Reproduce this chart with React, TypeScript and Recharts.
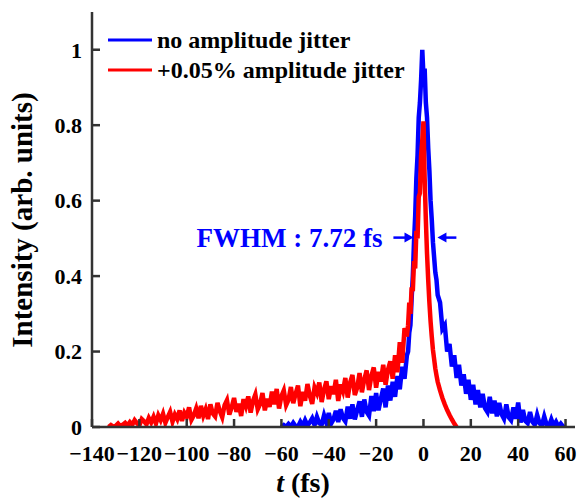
import { LineChart, Line, XAxis, YAxis, ReferenceLine, ReferenceDot, Legend, Label } from "recharts";

const FONT = "Liberation Serif, DejaVu Serif, Times New Roman, serif";
const BLUE = "#0000ff";
const RED = "#ff0000";
const AXIS = "#333333";

const X_TICKS = [-140, -120, -100, -80, -60, -40, -20, 0, 20, 40, 60];
const Y_TICKS = [0, 0.2, 0.4, 0.6, 0.8, 1];

const SERIES_NAMES = ["no amplitude jitter", "+0.05% amplitude jitter"];

// blue trace (no amplitude jitter): rise at 1 fs, peak at 0.5 fs, fall at 1 fs
const BLUE_RISE_START = -60;
const blueRise = [
  0.0, 0.005, 0.0, 0.008, 0.001, 0.011, 0.002, 0.001, 0.014, 0.003,
  0.018, 0.004, 0.012, 0.023, 0.005, 0.027, 0.01, 0.006, 0.031, 0.011,
  0.037, 0.009, 0.02, 0.043, 0.013, 0.047, 0.024, 0.015, 0.054, 0.022,
  0.06, 0.02, 0.044, 0.068, 0.027, 0.073, 0.04, 0.03, 0.082, 0.042,
  0.09, 0.044, 0.075, 0.102, 0.052, 0.11, 0.07, 0.12, 0.08, 0.135,
  0.1, 0.16, 0.128, 0.19,
];
const BLUE_PEAK_START = -6.5;
const bluePeak = [
  0.2, 0.25, 0.27, 0.34, 0.4, 0.49, 0.56, 0.66, 0.72, 0.82, 0.86, 0.92, 1.0,
  0.93, 0.95, 0.86, 0.82, 0.74, 0.68, 0.6, 0.55, 0.49, 0.45, 0.41, 0.39, 0.35,
];
const BLUE_FALL_START = 7;
const blueFall = [
  0.33, 0.26, 0.27, 0.2, 0.22, 0.16, 0.19, 0.13, 0.165, 0.11,
  0.14, 0.088, 0.125, 0.072, 0.112, 0.06, 0.098, 0.052, 0.088, 0.05,
  0.04, 0.08, 0.036, 0.07, 0.028, 0.064, 0.034, 0.022, 0.06, 0.026,
  0.018, 0.052, 0.022, 0.065, 0.012, 0.045, 0.016, 0.01, 0.04, 0.014,
  0.006, 0.032, 0.01, 0.004, 0.028, 0.006, 0.002, 0.02, 0.003, 0.014,
  0.001, 0.009, 0.001, 0.0,
];

// red trace (+0.05% amplitude jitter)
const RED_TAIL_START = -133;
const redTail = [
  0.0, 0.005, 0.001, 0.003, 0.009, 0.002, 0.006, 0.011, 0.004, 0.013,
  0.006, 0.018, 0.01, 0.004, 0.021, 0.015, 0.007, 0.024, 0.012, 0.027,
  0.009, 0.031, 0.018, 0.035, 0.011, 0.026, 0.04, 0.014, 0.033, 0.021,
  0.044, 0.016, 0.038, 0.027, 0.052, 0.019, 0.031, 0.049, 0.023, 0.056,
  0.03, 0.047, 0.021, 0.06, 0.036, 0.028, 0.064, 0.042, 0.026, 0.058,
  0.071, 0.033, 0.052, 0.077, 0.04, 0.062, 0.029, 0.074, 0.055, 0.081,
  0.038, 0.069, 0.086, 0.047, 0.061, 0.09, 0.044, 0.075, 0.053, 0.094,
  0.06, 0.101, 0.049, 0.082, 0.097, 0.058, 0.072, 0.106, 0.063, 0.088,
  0.11, 0.055, 0.093, 0.07, 0.114, 0.083, 0.061, 0.105, 0.09, 0.118,
  0.066, 0.099, 0.121, 0.074, 0.108, 0.087, 0.125, 0.069, 0.113, 0.095,
  0.13, 0.078, 0.117, 0.138, 0.085, 0.104, 0.143, 0.092, 0.126, 0.15,
  0.098, 0.135, 0.158, 0.104, 0.146, 0.121, 0.165, 0.112, 0.152, 0.174,
  0.128, 0.19, 0.145, 0.225, 0.17, 0.262, 0.24,
];
const RED_PEAK_START = -6.5;
const redPeak = [
  0.27, 0.33, 0.3, 0.37, 0.36, 0.44, 0.42, 0.52, 0.5, 0.61, 0.62, 0.72, 0.76,
  0.81, 0.66, 0.55, 0.46, 0.39, 0.33, 0.28, 0.24, 0.205, 0.18, 0.155, 0.137, 0.12,
];
const RED_FALL_START = 7;
const redFall = [0.097, 0.077, 0.06, 0.045, 0.032, 0.02, 0.009, 0.0];

const toPoints = (start: number, step: number, vals: number[]) =>
  vals.map((v, i) => ({ t: start + i * step, v }));

const blueData = [
  ...toPoints(BLUE_RISE_START, 1, blueRise),
  ...toPoints(BLUE_PEAK_START, 0.5, bluePeak),
  ...toPoints(BLUE_FALL_START, 1, blueFall),
];
const redData = [
  ...toPoints(RED_TAIL_START, 1, redTail),
  ...toPoints(RED_PEAK_START, 0.5, redPeak),
  ...toPoints(RED_FALL_START, 1, redFall),
];

const fmtX = (v: number) => (v < 0 ? `\u2212${-v}` : `${v}`);
const tickStyle = { fill: "#000", fontSize: 22, fontWeight: "bold", fontFamily: FONT };

const Arrow = (p: any) => {
  const { x1, y1, x2, y2 } = p;
  const dir = Math.sign(x2 - x1);
  return (
    <g>
      <line x1={x1} y1={y1} x2={x2 - dir * 6} y2={y2} stroke={BLUE} strokeWidth={2.5} />
      <polygon points={`${x2},${y2} ${x2 - dir * 9},${y2 - 5} ${x2 - dir * 9},${y2 + 5}`} fill={BLUE} />
    </g>
  );
};

const renderLegend = () => (
  <div style={{ fontFamily: FONT }}>
    {[
      { name: SERIES_NAMES[0], color: BLUE },
      { name: SERIES_NAMES[1], color: RED },
    ].map((item) => (
      <div key={item.name} style={{ display: "flex", alignItems: "center", height: 30 }}>
        <svg width={46} height={30}>
          <line x1={0} x2={44} y1={15} y2={15} stroke={item.color} strokeWidth={3} />
        </svg>
        <span style={{ marginLeft: 3, fontSize: 24, fontWeight: "bold", color: "#000", whiteSpace: "nowrap" }}>
          {item.name}
        </span>
      </div>
    ))}
  </div>
);

export default function App() {
  // pull the chart into the page corner so chart coords equal page coords
  return (
    <div style={{ fontFamily: FONT, marginLeft: -8, marginTop: -8 }}>
      <LineChart width={586} height={504} margin={{ top: 12, right: 11, left: 8, bottom: 0 }}>
        <XAxis
          dataKey="t"
          type="number"
          domain={[-140, 64]}
          allowDataOverflow
          ticks={X_TICKS}
          interval={0}
          tickFormatter={fmtX}
          tick={tickStyle}
          tickSize={-8}
          tickMargin={26}
          height={77}
          axisLine={{ stroke: AXIS, strokeWidth: 2.5 }}
          tickLine={{ stroke: AXIS, strokeWidth: 2.5 }}
        >
          <Label
            content={(p: any) => {
              const vb = p.viewBox || { y: 427 };
              return (
                <text x={303} y={vb.y + 65} textAnchor="middle" fontFamily={FONT} fontSize={28} fontWeight="bold" fill="#000">
                  <tspan fontStyle="italic">t</tspan> (fs)
                </text>
              );
            }}
          />
        </XAxis>
        <XAxis
          xAxisId="top"
          orientation="top"
          type="number"
          domain={[-140, 64]}
          allowDataOverflow
          ticks={X_TICKS}
          interval={0}
          tickFormatter={() => ""}
          tickSize={-8}
          height={0}
          axisLine={{ stroke: AXIS, strokeWidth: 2.5 }}
          tickLine={{ stroke: AXIS, strokeWidth: 2.5 }}
        />
        <YAxis
          type="number"
          domain={[0, 1.1]}
          allowDataOverflow
          ticks={Y_TICKS}
          interval={0}
          tick={tickStyle}
          tickSize={-8}
          tickMargin={18}
          width={84}
          axisLine={{ stroke: AXIS, strokeWidth: 2.5 }}
          tickLine={{ stroke: AXIS, strokeWidth: 2.5 }}
        >
          <Label
            content={() => (
              <text
                x={32}
                y={220}
                transform="rotate(-90 32 220)"
                textAnchor="middle"
                fontFamily={FONT}
                fontSize={29}
                fontWeight="bold"
                fill="#000"
              >
                Intensity (arb. units)
              </text>
            )}
          />
        </YAxis>
        <YAxis
          yAxisId="right"
          orientation="right"
          type="number"
          domain={[0, 1.1]}
          allowDataOverflow
          ticks={Y_TICKS}
          interval={0}
          tickFormatter={() => ""}
          tickSize={-8}
          width={0}
          axisLine={{ stroke: AXIS, strokeWidth: 2.5 }}
          tickLine={{ stroke: AXIS, strokeWidth: 2.5 }}
        />
        <Legend
          layout="vertical"
          align="center"
          verticalAlign="middle"
          content={renderLegend}
          wrapperStyle={{ top: 25, left: 108, width: "auto" }}
        />
        <Line
          data={blueData}
          dataKey="v"
          name={SERIES_NAMES[0]}
          stroke={BLUE}
          strokeWidth={4.5}
          dot={false}
          activeDot={false}
          isAnimationActive={false}
        />
        <Line
          data={redData}
          dataKey="v"
          name={SERIES_NAMES[1]}
          stroke={RED}
          strokeWidth={4.5}
          dot={false}
          activeDot={false}
          isAnimationActive={false}
        />
        <ReferenceLine segment={[{ x: -12.7, y: 0.502 }, { x: -4.2, y: 0.502 }]} shape={Arrow} />
        <ReferenceLine segment={[{ x: 13.9, y: 0.502 }, { x: 5.9, y: 0.502 }]} shape={Arrow} />
        <ReferenceDot
          x={-17.3}
          y={0.502}
          r={0}
          shape={(p: any) => (
            <text x={p.cx} y={p.cy} dy="0.35em" textAnchor="end" fontFamily={FONT} fontSize={27} fontWeight="bold" fill={BLUE}>
              FWHM : 7.72 fs
            </text>
          )}
        />
      </LineChart>
    </div>
  );
}
